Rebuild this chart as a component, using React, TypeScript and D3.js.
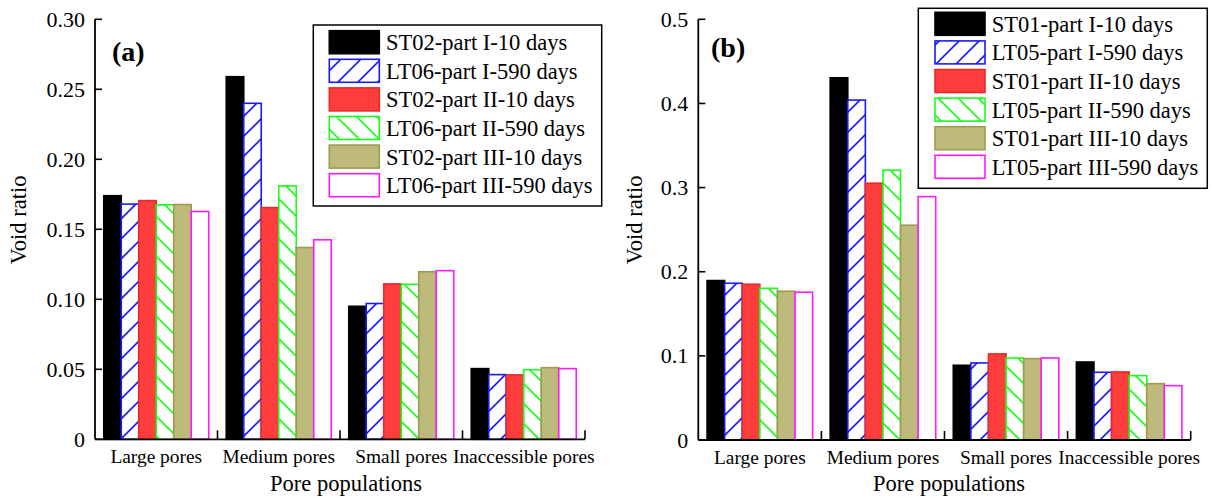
import React from "react";
import * as d3 from "d3";

// ---------- data ----------
const categories = ["Large pores", "Medium pores", "Small pores", "Inaccessible pores"];

const seriesNamesA = [
  "ST02-part I-10 days",
  "LT06-part I-590 days",
  "ST02-part II-10 days",
  "LT06-part II-590 days",
  "ST02-part III-10 days",
  "LT06-part III-590 days",
];
const st02PartI = [0.174, 0.259, 0.095, 0.0505];
const lt06PartI = [0.168, 0.240, 0.097, 0.0462];
const st02PartII = [0.1705, 0.1655, 0.111, 0.046];
const lt06PartII = [0.1675, 0.181, 0.1107, 0.0497];
const st02PartIII = [0.1677, 0.137, 0.1197, 0.0512];
const lt06PartIII = [0.1627, 0.1425, 0.1205, 0.0505];
const ticksA = [0, 0.05, 0.1, 0.15, 0.2, 0.25, 0.3];
const tickLabelsA = ["0", "0.05", "0.10", "0.15", "0.20", "0.25", "0.30"];

const seriesNamesB = [
  "ST01-part I-10 days",
  "LT05-part I-590 days",
  "ST01-part II-10 days",
  "LT05-part II-590 days",
  "ST01-part III-10 days",
  "LT05-part III-590 days",
];
const st01PartI = [0.1895, 0.4305, 0.0888, 0.0927];
const lt05PartI = [0.1863, 0.404, 0.0916, 0.0805];
const st01PartII = [0.1851, 0.3052, 0.1023, 0.0809];
const lt05PartII = [0.1803, 0.3207, 0.0975, 0.0765];
const st01PartIII = [0.1768, 0.2553, 0.0967, 0.067];
const lt05PartIII = [0.1756, 0.2893, 0.0975, 0.0646];
const ticksB = [0, 0.1, 0.2, 0.3, 0.4, 0.5];
const tickLabelsB = ["0", "0.1", "0.2", "0.3", "0.4", "0.5"];

// ---------- styles ----------
const seriesStyles = [
  { fill: "#000000", stroke: "#000000" },
  { fill: "url(#hatchBlue)", stroke: "#1a1aff" },
  { fill: "#ff3d3d", stroke: "#e82a2a" },
  { fill: "url(#hatchGreen)", stroke: "#19ff19" },
  { fill: "#bdba7c", stroke: "#9f9a52" },
  { fill: "#ffffff", stroke: "#ff19ff" },
];

const FONT = "Liberation Serif, Times New Roman, serif";

type PanelProps = {
  left: number;
  right: number;
  top: number;
  bottom: number;
  yMax: number;
  ticks: number[];
  tickLabels: string[];
  names: string[];
  values: number[][];
  tag: string;
  tagX: number;
  tagY: number;
  legend: { x0: number; x1: number; y0: number; y1: number; swX: number; swY: number; step: number; textX: number };
  yTitleX: number;
  xTitleX: number;
};

function Panel(p: PanelProps) {
  const x = d3.scaleBand<string>().domain(categories).range([p.left, p.right]).paddingInner(0).paddingOuter(0);
  const inner = d3
    .scaleBand<string>()
    .domain(p.names)
    .range([0, x.bandwidth()])
    .paddingInner(0)
    .paddingOuter(0.5);
  const y = d3.scaleLinear().domain([0, p.yMax]).range([p.bottom, p.top]);
  const boundaries = categories.map((c) => (x(c) as number) + x.bandwidth());
  const lg = p.legend;
  const swW = 50;
  const swH = 23;
  return (
    <g>
      {/* bars */}
      {p.names.map((name, si) =>
        categories.map((cat, ci) => {
          const v = p.values[si][ci];
          const bx = (x(cat) as number) + (inner(name) as number);
          return (
            <rect
              key={name + cat}
              x={bx}
              y={y(v)}
              width={inner.bandwidth()}
              height={y(0) - y(v)}
              fill={seriesStyles[si].fill}
              stroke={seriesStyles[si].stroke}
              strokeWidth={1.6}
            />
          );
        })
      )}
      {/* axes */}
      <line x1={p.left} x2={p.left} y1={p.top} y2={p.bottom} stroke="#000" strokeWidth={1.8} />
      <line x1={p.left} x2={p.right} y1={p.bottom} y2={p.bottom} stroke="#000" strokeWidth={1.8} />
      {p.ticks.map((t, i) => (
        <g key={"yt" + i}>
          <line x1={p.left} x2={p.left + 7} y1={y(t)} y2={y(t)} stroke="#000" strokeWidth={1.6} />
          <text
            x={p.left - 10}
            y={y(t) + 7.5}
            textAnchor="end"
            fontFamily={FONT}
            fontSize={22}
            fill="#000"
          >
            {p.tickLabels[i]}
          </text>
        </g>
      ))}
      {boundaries.map((bx, i) => (
        <line key={"xt" + i} x1={bx} x2={bx} y1={p.bottom} y2={p.bottom - 9} stroke="#000" strokeWidth={1.6} />
      ))}
      {categories.map((c) => (
        <text
          key={"cl" + c}
          x={(x(c) as number) + x.bandwidth() / 2}
          y={p.bottom + 24}
          textAnchor="middle"
          fontFamily={FONT}
          fontSize={19.4}
          fill="#000"
        >
          {c}
        </text>
      ))}
      <text x={p.xTitleX} y={491} textAnchor="middle" fontFamily={FONT} fontSize={22.5} fill="#000">
        Pore populations
      </text>
      <text
        transform={`translate(${p.yTitleX},220) rotate(-90)`}
        textAnchor="middle"
        fontFamily={FONT}
        fontSize={22.5}
        fill="#000"
      >
        Void ratio
      </text>
      <text x={p.tagX} y={p.tagY} fontFamily={FONT} fontSize={28} fontWeight="bold" fill="#000">
        {p.tag}
      </text>
      {/* legend */}
      <rect x={lg.x0} y={lg.y0} width={lg.x1 - lg.x0} height={lg.y1 - lg.y0} fill="#fff" stroke="#000" strokeWidth={1.5} />
      {p.names.map((name, si) => (
        <g key={"lg" + name}>
          <rect
            x={lg.swX}
            y={lg.swY + si * lg.step}
            width={swW}
            height={swH}
            fill={seriesStyles[si].fill}
            stroke={seriesStyles[si].stroke}
            strokeWidth={1.6}
          />
          <text x={lg.textX} y={lg.swY + si * lg.step + 19.5} fontFamily={FONT} fontSize={22.5} fill="#000">
            {name}
          </text>
        </g>
      ))}
    </g>
  );
}

export default function App() {
  return (
    <svg
      width={1212}
      height={499}
      style={{ position: "absolute", left: 0, top: 0, background: "#fff" }}
    >
      <defs>
        <pattern id="hatchBlue" patternUnits="userSpaceOnUse" width={20} height={20}>
          <rect width={20} height={20} fill="#fff" />
          <path d="M-5,5 L5,-5 M0,20 L20,0 M15,25 L25,15" stroke="#1a1aff" strokeWidth={1.6} />
        </pattern>
        <pattern id="hatchGreen" patternUnits="userSpaceOnUse" width={20} height={20}>
          <rect width={20} height={20} fill="#fff" />
          <path d="M0,0 L20,20 M-5,15 L5,25 M15,-5 L25,5" stroke="#19ff19" strokeWidth={1.6} />
        </pattern>
      </defs>
      <rect width={1212} height={499} fill="#fff" />
      <Panel
        left={95}
        right={585}
        top={19.3}
        bottom={439.3}
        yMax={0.3}
        ticks={ticksA}
        tickLabels={tickLabelsA}
        names={seriesNamesA}
        values={[st02PartI, lt06PartI, st02PartII, lt06PartII, st02PartIII, lt06PartIII]}
        tag="(a)"
        tagX={112}
        tagY={61}
        legend={{ x0: 313.3, x1: 601.7, y0: 25, y1: 206, swX: 329.3, swY: 30.7, step: 28.6, textX: 386 }}
        yTitleX={26}
        xTitleX={346}
      />
      <Panel
        left={698.3}
        right={1190.7}
        top={19.3}
        bottom={440}
        yMax={0.5}
        ticks={ticksB}
        tickLabels={tickLabelsB}
        names={seriesNamesB}
        values={[st01PartI, lt05PartI, st01PartII, lt05PartII, st01PartIII, lt05PartIII]}
        tag="(b)"
        tagX={711}
        tagY={57}
        legend={{ x0: 918.3, x1: 1207.3, y0: 8.3, y1: 188.3, swX: 935, swY: 12.3, step: 28.6, textX: 991.7 }}
        yTitleX={642}
        xTitleX={949}
      />
    </svg>
  );
}
